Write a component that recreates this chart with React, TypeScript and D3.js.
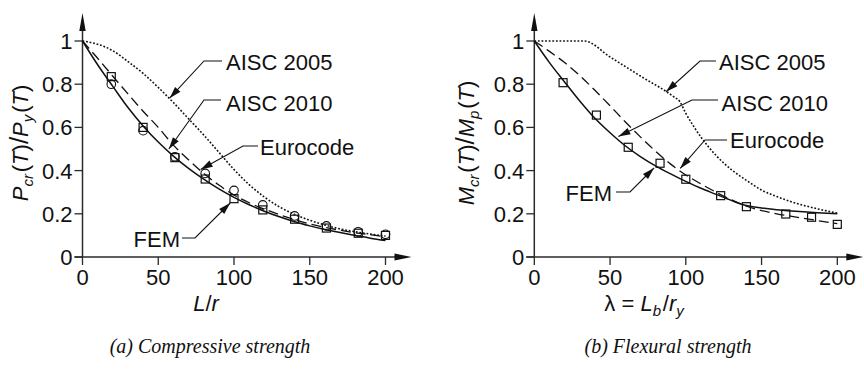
import React from 'react';
import * as d3 from 'd3';

// ---------- data ----------
const xTicks = [0, 50, 100, 150, 200];
const yTicks = [0, 0.2, 0.4, 0.6, 0.8, 1];
const yTickLabels = ['0', '0.2', '0.4', '0.6', '0.8', '1'];

// (a) compressive strength
const compX = [0, 10, 20, 30, 40, 50, 60, 70, 80, 90, 100, 110, 120, 130, 140, 150, 160, 170, 180, 190, 200];
const compAISC2005 = [1, 0.985, 0.955, 0.905, 0.85, 0.785, 0.715, 0.64, 0.565, 0.485, 0.405, 0.335, 0.278, 0.232, 0.197, 0.17, 0.148, 0.13, 0.117, 0.106, 0.097];
const compAISC2010 = [1, 0.89, 0.79, 0.692, 0.607, 0.532, 0.467, 0.41, 0.36, 0.315, 0.276, 0.242, 0.212, 0.186, 0.163, 0.144, 0.127, 0.113, 0.1, 0.087, 0.076];
const compEurocode = [1, 0.92, 0.837, 0.755, 0.675, 0.6, 0.518, 0.45, 0.387, 0.333, 0.287, 0.251, 0.222, 0.196, 0.173, 0.153, 0.137, 0.124, 0.112, 0.103, 0.094];
const compFemX = [19, 40, 61, 81, 100, 119, 140, 161, 182, 200];
const compFemCircle = [0.8, 0.585, 0.464, 0.387, 0.308, 0.241, 0.19, 0.144, 0.117, 0.105];
const compFemSquare = [0.835, 0.6, 0.46, 0.361, 0.27, 0.218, 0.175, 0.134, 0.11, 0.1];

// (b) flexural strength
const flexX = [0, 10, 20, 30, 40, 50, 60, 70, 80, 90, 100, 110, 120, 130, 140, 150, 160, 170, 180, 190, 200];
const flexAISC2010 = [1, 0.9, 0.81, 0.722, 0.642, 0.575, 0.515, 0.465, 0.422, 0.385, 0.35, 0.318, 0.29, 0.262, 0.238, 0.227, 0.219, 0.213, 0.208, 0.204, 0.2];
const flexEurocode = [1, 0.952, 0.9, 0.84, 0.772, 0.7, 0.626, 0.556, 0.49, 0.43, 0.38, 0.338, 0.3, 0.265, 0.235, 0.215, 0.2, 0.188, 0.177, 0.165, 0.155];
const flexAISC2005X = [0, 33, 50, 70, 92, 96, 100, 105, 110, 120, 130, 140, 150, 160, 170, 180, 190, 200];
const flexAISC2005 = [1, 1, 0.926, 0.838, 0.742, 0.72, 0.665, 0.607, 0.555, 0.47, 0.405, 0.355, 0.31, 0.28, 0.255, 0.235, 0.218, 0.203];
const flexFemX = [19, 41, 62, 83, 100, 123, 140, 166, 183, 200];
const flexFemSquare = [0.807, 0.657, 0.508, 0.434, 0.36, 0.284, 0.233, 0.199, 0.184, 0.151];

// ---------- style ----------
const SANS = "'Liberation Sans', Arial, Helvetica, sans-serif";
const SERIF = "'Liberation Serif', 'Times New Roman', serif";
const INK = '#111';
const AXIS = '#2a2a2a';

type Series = { xs: number[]; ys: number[]; dash: string; width: number };
type Ann = { label: string; tip: [number, number]; elbow: [number, number]; end: [number, number]; tx: number; ty: number; anchor: 'start' | 'end' };

const Y0 = 257;
const Y1 = 41;
const W = 303;

function Arrow({ from, to }: { from: [number, number]; to: [number, number] }) {
  const dx = to[0] - from[0];
  const dy = to[1] - from[1];
  const L = Math.hypot(dx, dy);
  const ux = dx / L, uy = dy / L;
  const len = 12, hw = 3.6;
  const bx = to[0] - ux * len, by = to[1] - uy * len;
  const p = `${to[0]},${to[1]} ${bx - uy * hw},${by + ux * hw} ${bx + uy * hw},${by - ux * hw}`;
  return <polygon points={p} fill={INK} />;
}

function Panel({ x0, series, femX, circles, squares, anns, yLabel, yLabelX, xLabel, xLabelX, caption, captionX }: any) {
  const x = d3.scaleLinear().domain([0, 200]).range([x0, x0 + W]);
  const y = d3.scaleLinear().domain([0, 1]).range([Y0, Y1]);
  const line = (xs: number[], ys: number[]) =>
    d3.line<number>().x((_, i) => x(xs[i])).y((d) => y(d)).curve(d3.curveMonotoneX)(ys) || '';
  const axEnd = x0 + 329;
  return (
    <g>
      {/* axes */}
      <line x1={x0 - 8} x2={axEnd - 14} y1={Y0} y2={Y0} stroke={AXIS} strokeWidth={1.5} />
      <polygon points={`${axEnd},${Y0} ${axEnd - 17},${Y0 - 3.5} ${axEnd - 17},${Y0 + 3.5}`} fill={INK} />
      <line x1={x0} x2={x0} y1={Y0} y2={27} stroke={AXIS} strokeWidth={1.5} />
      <polygon points={`${x0},13 ${x0 - 3.2},31 ${x0 + 3.2},31`} fill={INK} />
      {yTicks.map((t, i) => (
        <g key={'yt' + i}>
          <line x1={x0 - 8} x2={x0} y1={y(t)} y2={y(t)} stroke={AXIS} strokeWidth={1.3} />
          <text x={x0 - 10} y={y(t)} dy="0.36em" textAnchor="end" fontFamily={SANS} fontSize={22} fill={INK}>{yTickLabels[i]}</text>
        </g>
      ))}
      {xTicks.map((t) => (
        <g key={'xt' + t}>
          <line x1={x(t)} x2={x(t)} y1={Y0} y2={Y0 + 8} stroke={AXIS} strokeWidth={1.3} />
          <text x={x(t)} y={285} textAnchor="middle" fontFamily={SANS} fontSize={22} fill={INK}>{t}</text>
        </g>
      ))}
      {/* curves */}
      {series.map((s: Series, i: number) => (
        <path key={'s' + i} d={line(s.xs, s.ys)} fill="none" stroke={INK} strokeWidth={s.width} strokeDasharray={s.dash} />
      ))}
      {/* markers */}
      {circles && femX.map((v: number, i: number) => (
        <circle key={'c' + i} cx={x(v)} cy={y(circles[i])} r={4.3} fill="none" stroke={INK} strokeWidth={1.1} />
      ))}
      {squares && femX.map((v: number, i: number) => (
        <rect key={'q' + i} x={x(v) - 4} y={y(squares[i]) - 4} width={8} height={8} fill="none" stroke={INK} strokeWidth={1.2} />
      ))}
      {/* annotations */}
      {anns.map((a: Ann, i: number) => {
        const tip: [number, number] = [x(a.tip[0]), y(a.tip[1])];
        return (
          <g key={'a' + i}>
            <polyline points={`${a.end[0]},${a.end[1]} ${a.elbow[0]},${a.elbow[1]} ${tip[0]},${tip[1]}`} fill="none" stroke={INK} strokeWidth={1.1} />
            <Arrow from={a.elbow} to={tip} />
            <text x={a.tx} y={a.ty} textAnchor={a.anchor} fontFamily={SANS} fontSize={22} fill={INK}>{a.label}</text>
          </g>
        );
      })}
      {/* labels */}
      <text transform={`translate(${yLabelX},143) rotate(-90)`} textAnchor="middle" fontFamily={SANS} fontSize={22} fill={INK}>{yLabel}</text>
      <text x={xLabelX} y={311} textAnchor="middle" fontFamily={SANS} fontSize={22} fill={INK}>{xLabel}</text>
      <text x={captionX} y={353} textAnchor="middle" fontFamily={SERIF} fontStyle="italic" fontSize={20} fill={INK}>{caption}</text>
    </g>
  );
}

const sub = (t: string, italic = true) => (
  <>
    <tspan fontSize={15} dy={5} fontStyle={italic ? 'italic' : 'normal'}>{t}</tspan>
    <tspan dy={-5}>{'\u200A'}</tspan>
  </>
);

export default function App() {
  const compSeries: Series[] = [
    { xs: compX, ys: compAISC2005, dash: '1.8 1.8', width: 1.6 },
    { xs: compX, ys: compEurocode, dash: '10 5', width: 1.3 },
    { xs: compX, ys: compAISC2010, dash: '', width: 1.5 },
  ];
  const flexSeries: Series[] = [
    { xs: flexAISC2005X, ys: flexAISC2005, dash: '1.8 1.8', width: 1.6 },
    { xs: flexX, ys: flexEurocode, dash: '10 5', width: 1.3 },
    { xs: flexX, ys: flexAISC2010, dash: '', width: 1.5 },
  ];
  const compAnns: Ann[] = [
    { label: 'AISC 2005', tip: [57.5, 0.735], elbow: [204, 61], end: [222, 61], tx: 226, ty: 70, anchor: 'start' },
    { label: 'AISC 2010', tip: [57, 0.5], elbow: [204, 100], end: [221, 100], tx: 226, ty: 110.5, anchor: 'start' },
    { label: 'Eurocode', tip: [78, 0.405], elbow: [243, 146], end: [258, 146], tx: 260, ty: 155, anchor: 'start' },
    { label: 'FEM', tip: [97.5, 0.25], elbow: [195, 238], end: [182, 238], tx: 180, ty: 246.5, anchor: 'end' },
  ];
  const flexAnns: Ann[] = [
    { label: 'AISC 2005', tip: [87, 0.765], elbow: [700, 61], end: [716, 61], tx: 719, ty: 70, anchor: 'start' },
    { label: 'AISC 2010', tip: [55.5, 0.558], elbow: [692, 100], end: [718, 100], tx: 721.5, ty: 110.5, anchor: 'start' },
    { label: 'Eurocode', tip: [96.3, 0.41], elbow: [705, 140], end: [727, 140], tx: 730, ty: 147.5, anchor: 'start' },
    { label: 'FEM', tip: [79, 0.412], elbow: [630, 192], end: [616, 192], tx: 612, ty: 200.5, anchor: 'end' },
  ];
  const compYLabel = (
    <>
      <tspan fontStyle="italic">P</tspan>{sub('cr')}(<tspan fontStyle="italic">T</tspan>)<tspan fontSize={26}>/</tspan><tspan fontStyle="italic">P</tspan>{sub('y')}(<tspan fontStyle="italic">T</tspan>)
    </>
  );
  const flexYLabel = (
    <>
      <tspan fontStyle="italic">M</tspan>{sub('cr')}(<tspan fontStyle="italic">T</tspan>)<tspan fontSize={26}>/</tspan><tspan fontStyle="italic">M</tspan>{sub('p')}(<tspan fontStyle="italic">T</tspan>)
    </>
  );
  const compXLabel = (
    <>
      <tspan fontStyle="italic">L</tspan>/<tspan fontStyle="italic">r</tspan>
    </>
  );
  const flexXLabel = (
    <>
      {'\u03BB = '}<tspan fontStyle="italic">L</tspan>{sub('b')}/<tspan fontStyle="italic">r</tspan>{sub('y')}
    </>
  );
  return (
    <svg width={864} height={373} style={{ position: 'absolute', left: 0, top: 0, background: '#fff' }}>
      <rect width={864} height={373} fill="#fff" />
      <Panel x0={82.5} series={compSeries} femX={compFemX} circles={compFemCircle} squares={compFemSquare} anns={compAnns}
        yLabel={compYLabel} yLabelX={28} xLabel={compXLabel} xLabelX={206} caption="(a) Compressive strength" captionX={210} />
      <Panel x0={534.3} series={flexSeries} femX={flexFemX} circles={null} squares={flexFemSquare} anns={flexAnns}
        yLabel={flexYLabel} yLabelX={473.5} xLabel={flexXLabel} xLabelX={645} caption="(b) Flexural strength" captionX={668} />
    </svg>
  );
}
